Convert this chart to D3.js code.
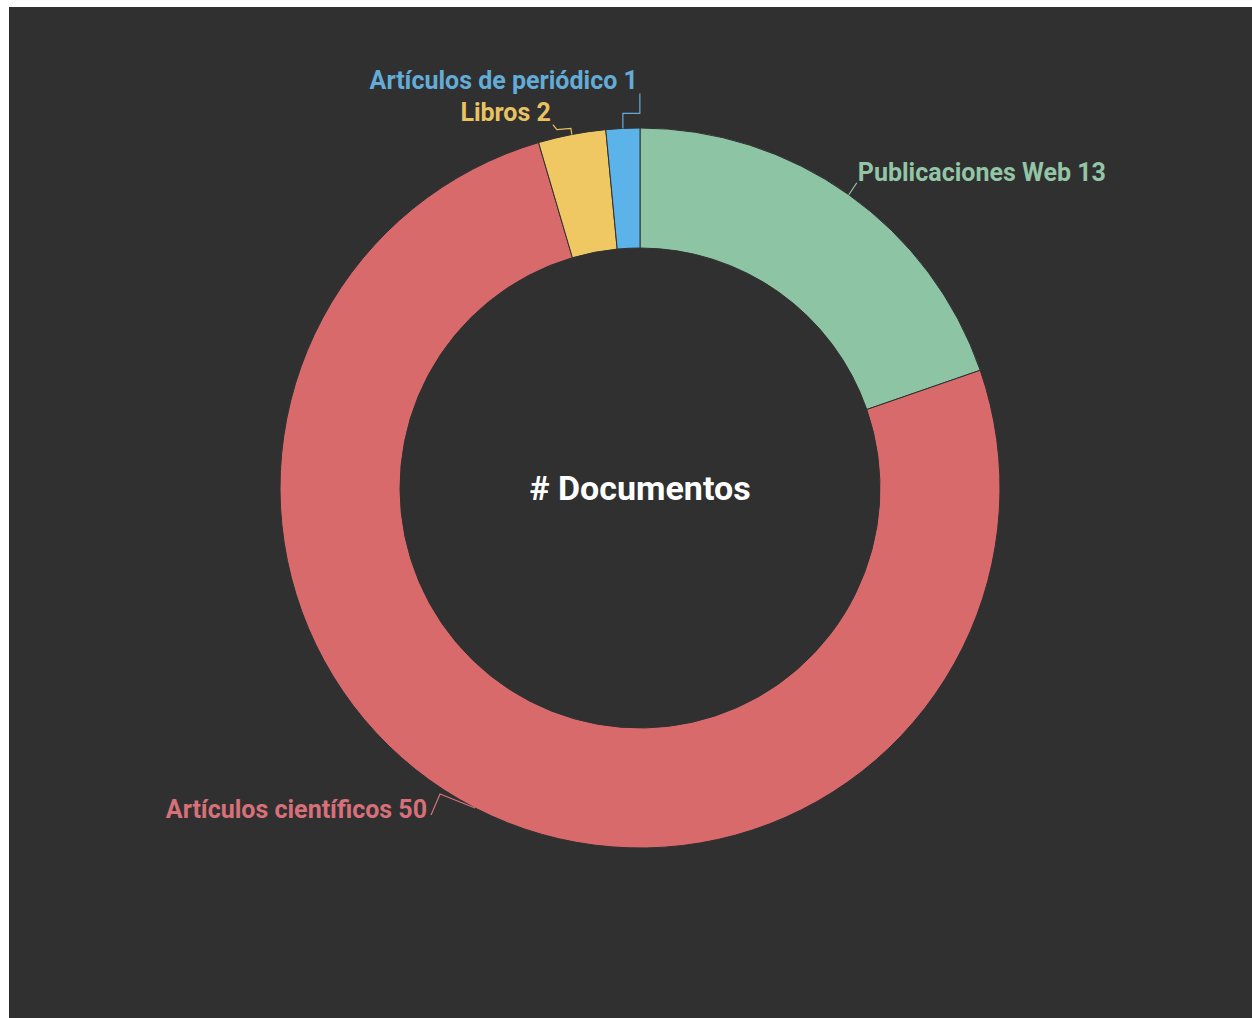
<!DOCTYPE html>
<html>
<head>
<meta charset="utf-8">
<script src="https://cdn.jsdelivr.net/npm/d3@7/dist/d3.min.js"></script>
<style>
  html, body { margin: 0; padding: 0; background: #ffffff; }
  svg { display: block; }
  text { font-family: Roboto, "Noto Sans", sans-serif; }
</style>
</head>
<body>
<svg id="chart" width="1252" height="1018"></svg>
<script>
// Document types and counts, in clockwise order from twelve o'clock
const categories = ["Publicaciones Web", "Artículos científicos", "Libros", "Artículos de periódico"];
const counts = [13, 50, 2, 1];
const centerTitle = "# Documentos";

// Presentation settings
const sliceColors = ["#8dc4a4", "#d96a6c", "#f0c863", "#5bb3ea"];
const labelColors = ["#93c6a6", "#d8707a", "#e9c262", "#64acd8"];
// Leader-line bends and label anchor, offsets from the slice's outer-edge midpoint
const leaderLayout = [
  { bends: [[8, -12]], label: [9, -14], anchor: "start" },
  { bends: [[-35, -14], [-44, 7]], label: [-48, 10], anchor: "end" },
  { bends: [[-1, -6], [-15, -5], [-19, -10]], label: [-21, -14], anchor: "end" },
  { bends: [[0, -15], [17, -15], [17, -35]], label: [15, -39], anchor: "end" }
];

const W = 1252, H = 1018;
const cx = 640, cy = 488;
const outerR = 360, innerR = 240;

const svg = d3.select("#chart");

// dark panel
svg.append("rect")
  .attr("x", 9).attr("y", 7)
  .attr("width", W - 9).attr("height", H - 7)
  .attr("fill", "#303030");

const data = categories.map((name, i) => ({ name, value: counts[i], i }));

const pie = d3.pie().sort(null).value(d => d.value).startAngle(0).endAngle(2 * Math.PI);
const arcs = pie(data);
const arc = d3.arc().innerRadius(innerR).outerRadius(outerR);

const g = svg.append("g").attr("transform", `translate(${cx},${cy})`);

g.selectAll("path.slice")
  .data(arcs)
  .enter().append("path")
  .attr("class", "slice")
  .attr("d", arc)
  .attr("fill", d => sliceColors[d.data.i])
  .attr("stroke", "#303030")
  .attr("stroke-width", 1);

// leader lines and labels
arcs.forEach(a => {
  const mid = (a.startAngle + a.endAngle) / 2;
  const p = [outerR * Math.sin(mid), -outerR * Math.cos(mid)];
  const lay = leaderLayout[a.data.i];
  const pts = [p].concat(lay.bends.map(o => [p[0] + o[0], p[1] + o[1]]));
  const col = labelColors[a.data.i];

  g.append("path")
    .attr("d", d3.line()(pts))
    .attr("fill", "none")
    .attr("stroke", col)
    .attr("stroke-width", 1.2);

  g.append("text")
    .attr("x", p[0] + lay.label[0])
    .attr("y", p[1] + lay.label[1])
    .attr("text-anchor", lay.anchor)
    .attr("fill", col)
    .attr("font-size", 25)
    .attr("font-weight", 700)
    .text(`${a.data.name} ${a.data.value}`);
});

// centre title
g.append("text")
  .attr("x", 0)
  .attr("y", 12)
  .attr("text-anchor", "middle")
  .attr("fill", "#ffffff")
  .attr("font-size", 34)
  .attr("font-weight", 700)
  .text(centerTitle);
</script>
</body>
</html>
